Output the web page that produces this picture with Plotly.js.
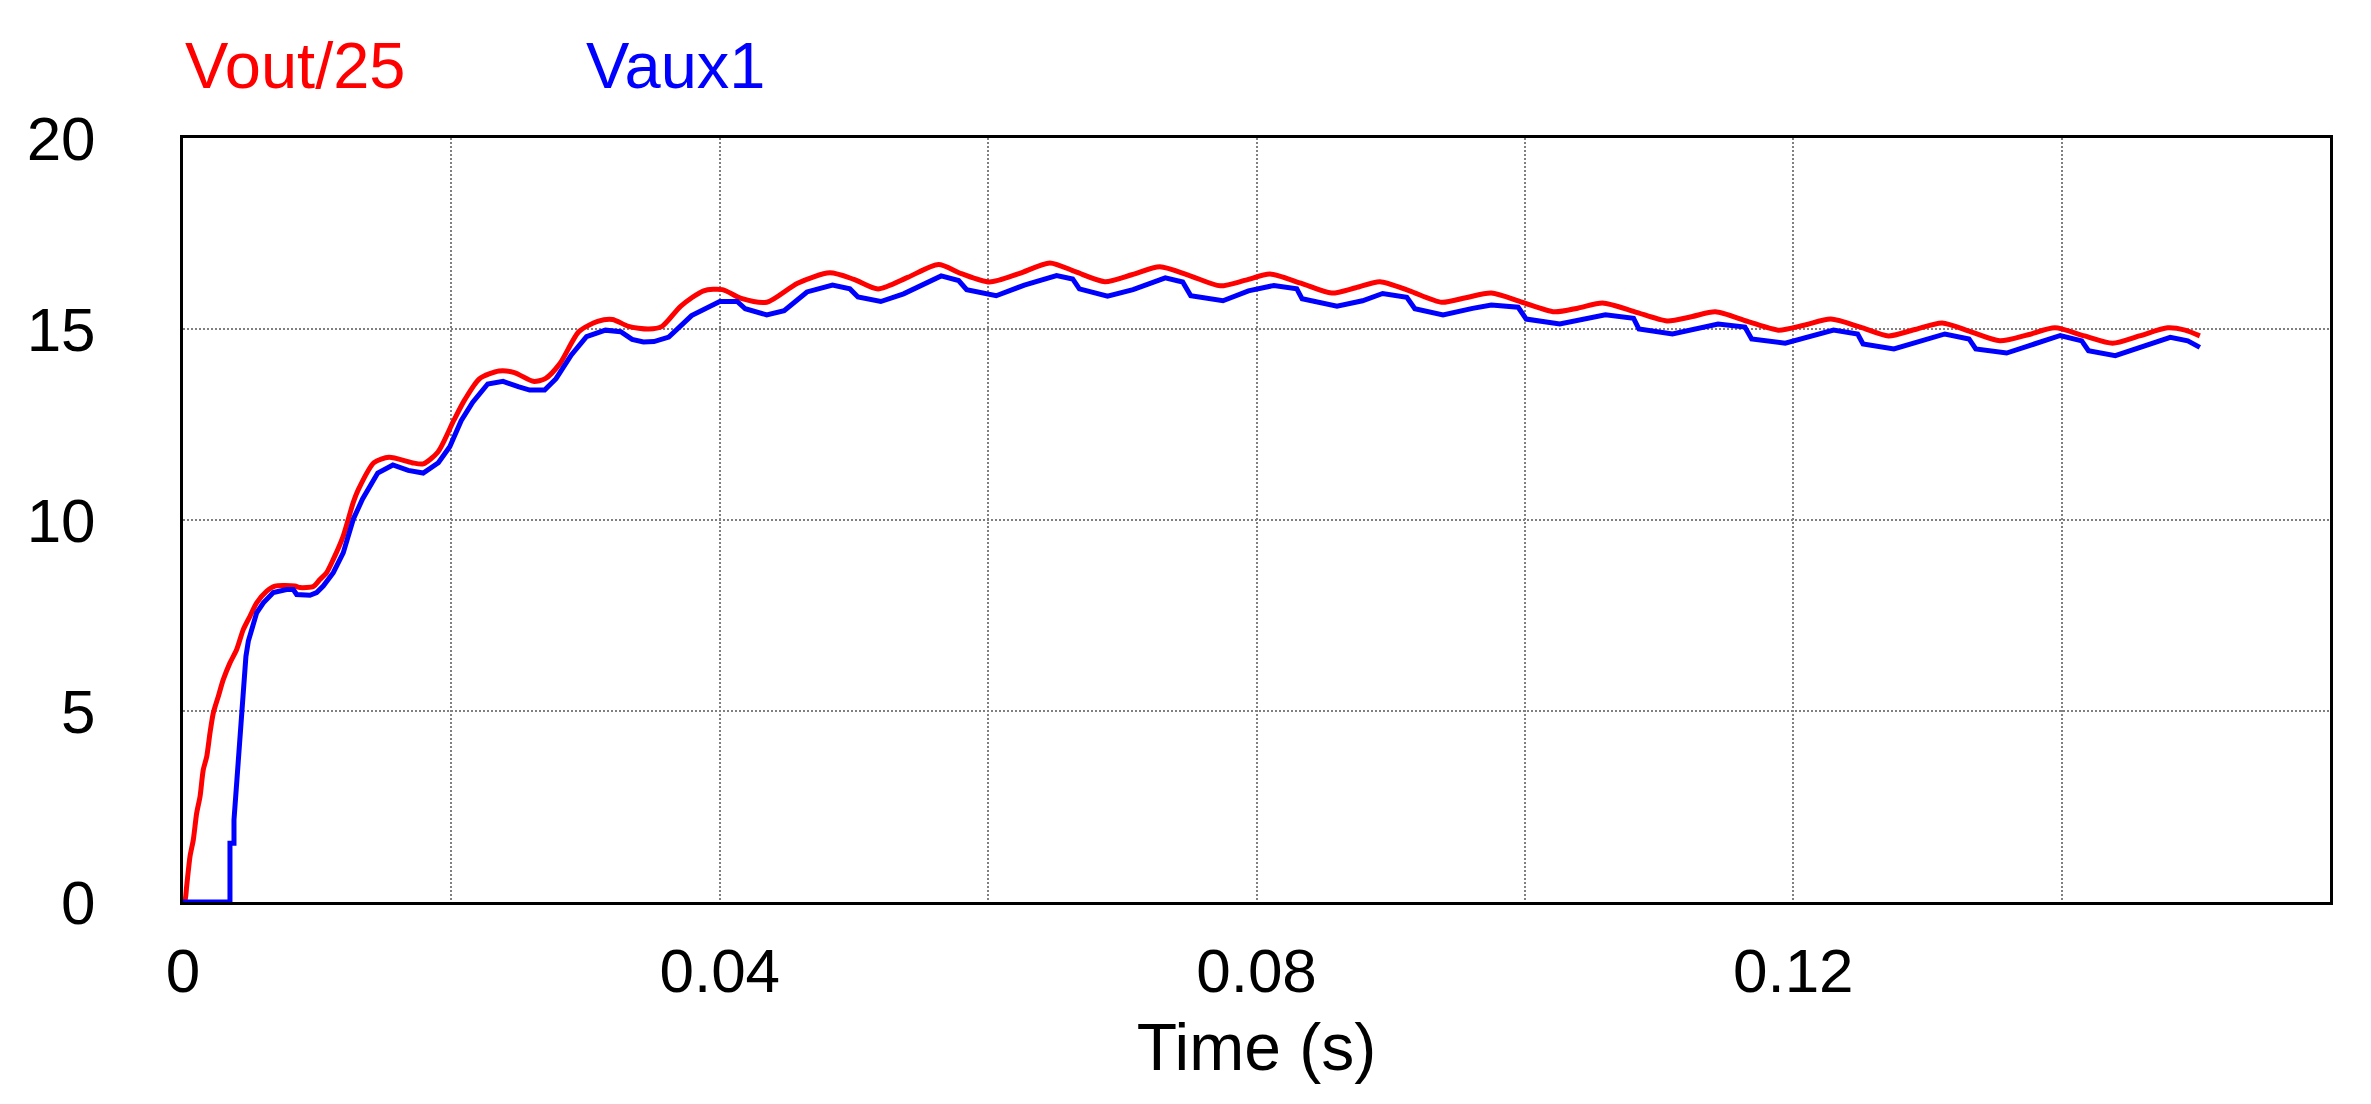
<!DOCTYPE html>
<html>
<head>
<meta charset="utf-8">
<script src="https://cdn.plot.ly/plotly-3.0.1.min.js"></script>
<style>
  html, body { margin: 0; padding: 0; background: #fff; }
  #chart { width: 2371px; height: 1104px; }
</style>
</head>
<body>
<div id="chart"></div>
<script>
// Vout/25 trace (time in s, volts)
const voutT = [0, 0.00015, 0.00027, 0.00052, 0.00077, 0.00102, 0.00127, 0.00151, 0.00177, 0.00201,
  0.00226, 0.00263, 0.003, 0.0035, 0.004, 0.00449, 0.00499, 0.00549, 0.00624, 0.00685,
  0.00834, 0.00872, 0.00971, 0.0102, 0.0107, 0.0112, 0.01194, 0.01269, 0.0131, 0.01423,
  0.01535, 0.01706, 0.0179, 0.019, 0.02017, 0.021, 0.0221, 0.02355, 0.0247, 0.0261,
  0.027, 0.0281, 0.0295, 0.0309, 0.032, 0.0332, 0.0347, 0.0357, 0.0371, 0.0388,
  0.0402, 0.0416, 0.0435, 0.0458, 0.0482, 0.05, 0.0518, 0.054, 0.0563, 0.058,
  0.0601, 0.0623, 0.0646, 0.0665, 0.0687, 0.0707, 0.0728, 0.075, 0.0773, 0.0792,
  0.081, 0.0833, 0.0856, 0.0874, 0.0892, 0.0914, 0.0938, 0.0956, 0.0975, 0.0998,
  0.1022, 0.104, 0.1058, 0.1082, 0.1106, 0.1124, 0.1142, 0.1166, 0.1189, 0.1208,
  0.1228, 0.125, 0.1271, 0.129, 0.1311, 0.1332, 0.1354, 0.1375, 0.1395, 0.1417,
  0.1438, 0.1458, 0.1479, 0.1492, 0.1503];
const voutV = [0, 0.05, 0.4, 1.19, 1.63, 2.33, 2.76, 3.46, 3.81, 4.42,
  4.95, 5.38, 5.82, 6.26, 6.61, 7.13, 7.48, 7.83, 8.14, 8.27,
  8.27, 8.23, 8.26, 8.44, 8.62, 8.97, 9.58, 10.46, 10.82, 11.5,
  11.64, 11.5, 11.47, 11.78, 12.6, 13.15, 13.7, 13.9, 13.86, 13.63,
  13.7, 14.1, 14.93, 15.2, 15.25, 15.07, 15.0, 15.07, 15.6, 16.0,
  16.03, 15.8, 15.7, 16.2, 16.47, 16.3, 16.05, 16.35, 16.69, 16.45,
  16.23, 16.45, 16.73, 16.5, 16.24, 16.42, 16.63, 16.4, 16.13, 16.28,
  16.44, 16.2, 15.94, 16.08, 16.24, 16.0, 15.7, 15.82, 15.94, 15.7,
  15.45, 15.55, 15.68, 15.45, 15.21, 15.32, 15.45, 15.2, 14.97, 15.1,
  15.26, 15.05, 14.82, 14.98, 15.16, 14.93, 14.69, 14.85, 15.03, 14.82,
  14.63, 14.82, 15.03, 14.97, 14.82];

// Vaux1 trace
const vauxT = [0, 0.0035, 0.0035, 0.0038, 0.0038, 0.00395, 0.00412, 0.00437, 0.00454, 0.00469,
  0.00487, 0.00512, 0.00549, 0.00599, 0.00673, 0.00772, 0.00822, 0.00847, 0.00946, 0.00996,
  0.01045, 0.0112, 0.01194, 0.01269, 0.01338, 0.01451, 0.01564, 0.01678, 0.0179, 0.01903,
  0.01988, 0.02073, 0.02158, 0.02271, 0.02385, 0.02498, 0.02583, 0.02695, 0.0278, 0.02894,
  0.03007, 0.03148, 0.03262, 0.03347, 0.03431, 0.0351, 0.0362, 0.0379, 0.04, 0.0413,
  0.0419, 0.0435, 0.0448, 0.0465, 0.0484, 0.0497, 0.0503, 0.052, 0.0537, 0.0565,
  0.0578, 0.0584, 0.0606, 0.0627, 0.0651, 0.0663, 0.0668, 0.0689, 0.0708, 0.0732,
  0.0745, 0.0751, 0.0775, 0.0794, 0.0813, 0.083, 0.0834, 0.086, 0.0879, 0.0894,
  0.0912, 0.0918, 0.0939, 0.0961, 0.0975, 0.0995, 0.1001, 0.1026, 0.106, 0.1081,
  0.1085, 0.111, 0.1144, 0.1164, 0.1169, 0.1194, 0.123, 0.1248, 0.1252, 0.1275,
  0.1313, 0.1331, 0.1336, 0.1359, 0.1399, 0.1415, 0.142, 0.144, 0.1481, 0.1494,
  0.1503];
const vauxV = [0, 0, 1.54, 1.54, 2.15, 2.85, 4.07, 4.9, 5.65, 6.43,
  6.83, 7.18, 7.57, 7.83, 8.1, 8.18, 8.18, 8.05, 8.03, 8.1,
  8.27, 8.62, 9.14, 10.02, 10.55, 11.23, 11.44, 11.3, 11.23, 11.5,
  11.92, 12.6, 13.08, 13.56, 13.63, 13.49, 13.4, 13.4, 13.7, 14.32,
  14.8, 14.97, 14.93, 14.73, 14.66, 14.67, 14.79, 15.35, 15.72, 15.72,
  15.53, 15.37, 15.48, 15.97, 16.15, 16.05, 15.84, 15.72, 15.92, 16.39,
  16.27, 16.03, 15.87, 16.15, 16.4, 16.31, 16.05, 15.86, 16.03, 16.34,
  16.23, 15.87, 15.74, 16.0, 16.14, 16.05, 15.79, 15.6, 15.74, 15.93,
  15.83, 15.53, 15.37, 15.54, 15.63, 15.57, 15.26, 15.13, 15.37, 15.28,
  15.0, 14.87, 15.13, 15.05, 14.74, 14.63, 14.97, 14.87, 14.61, 14.48,
  14.87, 14.74, 14.48, 14.37, 14.83, 14.69, 14.43, 14.3, 14.78, 14.69,
  14.52];

const xGrid = [0, 0.02, 0.04, 0.06, 0.08, 0.1, 0.12, 0.14, 0.16];
const xLabels = ["0", "", "0.04", "", "0.08", "", "0.12", "", ""];
const yTicks = [0, 5, 10, 15, 20];

const FONT = "'Liberation Sans', Arial, sans-serif";

const traces = [
  {
    type: "scatter", mode: "lines", name: "Vout/25",
    x: voutT, y: voutV,
    line: { color: "#ff0000", width: 5, shape: "spline", smoothing: 0.7 },
  },
  {
    type: "scatter", mode: "lines", name: "Vaux1",
    x: vauxT, y: vauxV,
    line: { color: "#0000ff", width: 5, shape: "linear" },
  },
];

const axisCommon = {
  showline: true, linecolor: "#000", linewidth: 3, mirror: true,
  showgrid: true, gridcolor: "#808080", gridwidth: 2, griddash: "2px,2px",
  zeroline: false,
  ticks: "outside", tickcolor: "rgba(0,0,0,0)",
  tickfont: { family: FONT, size: 62, color: "#000" },
};

const layout = {
  width: 2371, height: 1104,
  margin: { l: 183, r: 41, t: 138, b: 202 },
  paper_bgcolor: "#fff", plot_bgcolor: "#fff",
  showlegend: false,
  xaxis: Object.assign({}, axisCommon, {
    range: [0, 0.16],
    tickmode: "array", tickvals: xGrid, ticktext: xLabels,
    ticklen: 13,
    title: { text: "Time (s)", font: { family: FONT, size: 66, color: "#000" }, standoff: 20 },
  }),
  yaxis: Object.assign({}, axisCommon, {
    range: [0, 20],
    tickmode: "array", tickvals: yTicks,
    ticklen: 72,
  }),
  annotations: [
    { text: "Vout/25", xref: "paper", yref: "paper", x: 0, y: 1.095,
      xanchor: "left", yanchor: "middle", showarrow: false,
      font: { family: FONT, size: 65, color: "#ff0000" } },
    { text: "Vaux1", xref: "paper", yref: "paper", x: 0.187, y: 1.095,
      xanchor: "left", yanchor: "middle", showarrow: false,
      font: { family: FONT, size: 65, color: "#0000ff" } },
  ],
};

Plotly.newPlot("chart", traces, layout, { staticPlot: true, displayModeBar: false });
</script>
</body>
</html>
